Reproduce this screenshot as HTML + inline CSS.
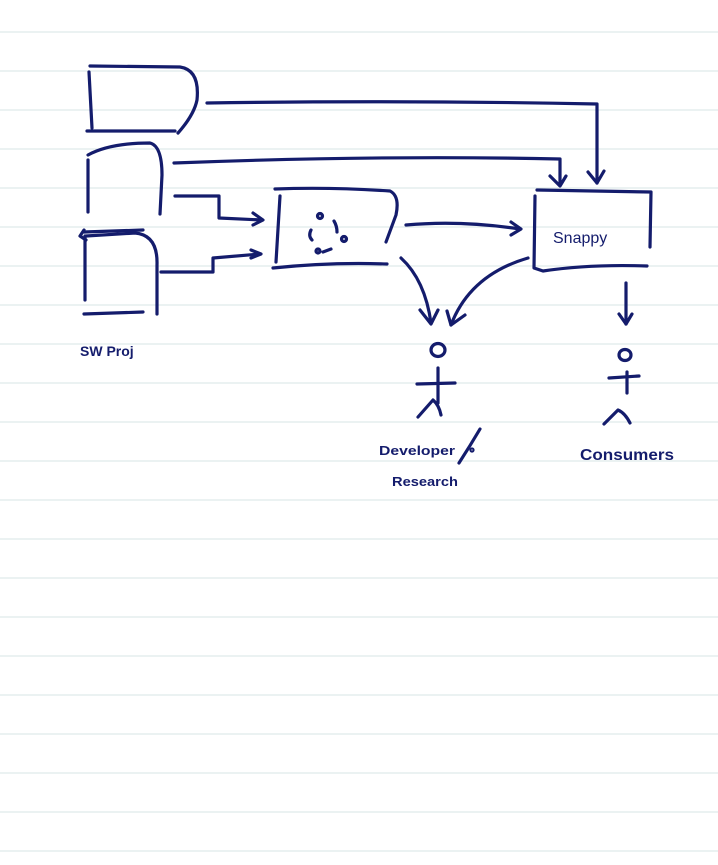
<!DOCTYPE html>
<html><head><meta charset="utf-8"><style>
html,body{margin:0;padding:0;background:#fff;}
svg{display:block;}
text{font-family:"Liberation Sans",sans-serif;fill:#141c6c;font-weight:bold;}
</style></head><body>
<svg width="718" height="865" viewBox="0 0 718 865" xmlns="http://www.w3.org/2000/svg">
<g stroke="#dfe9e9" stroke-width="1.2">
<line x1="0" y1="32" x2="718" y2="32"/><line x1="0" y1="71" x2="718" y2="71"/><line x1="0" y1="110" x2="718" y2="110"/><line x1="0" y1="149" x2="718" y2="149"/><line x1="0" y1="188" x2="718" y2="188"/><line x1="0" y1="227" x2="718" y2="227"/><line x1="0" y1="266" x2="718" y2="266"/><line x1="0" y1="305" x2="718" y2="305"/><line x1="0" y1="344" x2="718" y2="344"/><line x1="0" y1="383" x2="718" y2="383"/><line x1="0" y1="422" x2="718" y2="422"/><line x1="0" y1="461" x2="718" y2="461"/><line x1="0" y1="500" x2="718" y2="500"/><line x1="0" y1="539" x2="718" y2="539"/><line x1="0" y1="578" x2="718" y2="578"/><line x1="0" y1="617" x2="718" y2="617"/><line x1="0" y1="656" x2="718" y2="656"/><line x1="0" y1="695" x2="718" y2="695"/><line x1="0" y1="734" x2="718" y2="734"/><line x1="0" y1="773" x2="718" y2="773"/><line x1="0" y1="812" x2="718" y2="812"/><line x1="0" y1="851" x2="718" y2="851"/>
</g>
<g stroke="#141c6c" stroke-width="3.2" fill="none" stroke-linecap="round" stroke-linejoin="round">
<path d="M90,66 L180,67 Q200,70 197,100 Q194,115 178,133"/>
<path d="M89,72 L92,128"/>
<path d="M87,131 L175,131"/>
<path d="M88,155 Q110,143 150,143 Q162,146 162,175 L160,214"/>
<path d="M88,160 L88,212"/>
<path d="M84,232 L143,230"/>
<path d="M80,236 L84,230 M80,236 L86,240"/>
<path d="M86,236 L135,233 Q158,235 157,265 L157,314"/>
<path d="M85,236 L85,300"/>
<path d="M84,314 L143,312"/>
<path d="M207,103 Q400,100 597,104 L597,183"/>
<path d="M588,172 L597,183 L604,171"/>
<path d="M174,163 Q380,155 560,159 L560,185"/>
<path d="M550,176 L560,186 L566,176"/>
<path d="M175,196 L219,196 L219,218 L262,220"/>
<path d="M253,213 L263,220 L253,225"/>
<path d="M161,272 L213,272 L213,258 L260,254"/>
<path d="M251,250 L261,254 L251,258"/>
<path d="M275,189 Q330,187 390,191 Q400,196 396,215 L386,242"/>
<path d="M280,196 L276,262"/>
<path d="M273,268 Q330,262 387,264"/>
<circle cx="320" cy="216" r="2.5"/>
<circle cx="344" cy="239" r="2.5"/>
<circle cx="318" cy="251" r="2"/>
<path d="M334,221 Q337,226 337,232"/>
<path d="M311,230 Q308,236 312,240"/>
<path d="M323,252 L331,249"/>
<path d="M406,225 Q460,220 520,229"/>
<path d="M511,222 L521,229 L511,235"/>
<path d="M537,190 L651,192 L650,247"/>
<path d="M535,196 L534,268 L543,271 Q590,264 647,266"/>
<path d="M401,258 Q425,280 431,323"/>
<path d="M420,310 L431,324 L438,310"/>
<path d="M528,258 Q470,275 451,325"/>
<path d="M447,311 L451,325 L465,315"/>
<path d="M626,283 L626,324"/>
<path d="M619,314 L626,324 L632,314"/>
<ellipse cx="438" cy="350" rx="7" ry="6.5"/>
<path d="M438,368 L438,403"/>
<path d="M417,384 L455,383"/>
<path d="M418,417 L433,400 Q439,405 441,415"/>
<ellipse cx="625" cy="355" rx="6" ry="5.5"/>
<path d="M627,372 L627,393"/>
<path d="M609,378 L639,376"/>
<path d="M604,424 L618,410 Q625,413 630,423"/>
<path d="M480,429 Q470,446 459,463"/>
<circle cx="472" cy="450" r="1"/>
</g>
<text x="553" y="243" font-size="16" style="font-family:'Liberation Sans',sans-serif;font-weight:normal">Snappy</text>
<text x="80" y="356" font-size="14">SW Proj</text>
<text x="379" y="455" font-size="13" textLength="76" lengthAdjust="spacingAndGlyphs">Developer</text>
<text x="392" y="486" font-size="13" textLength="66" lengthAdjust="spacingAndGlyphs">Research</text>
<text x="580" y="460" font-size="16" textLength="94" lengthAdjust="spacingAndGlyphs">Consumers</text>
</svg>
</body></html>
